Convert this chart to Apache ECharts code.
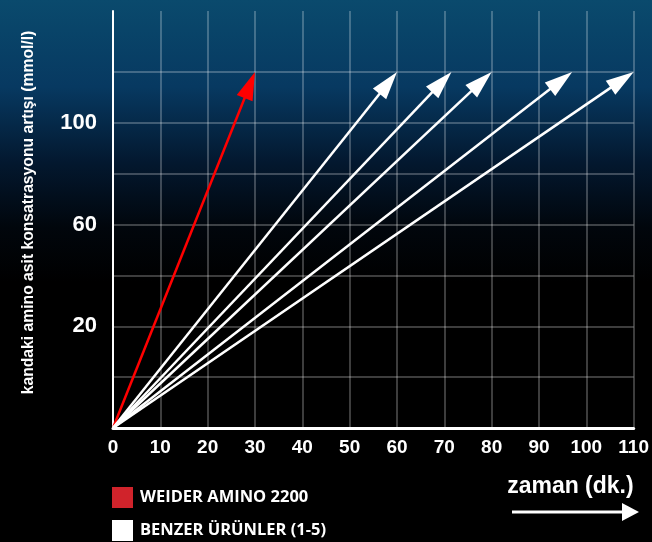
<!DOCTYPE html>
<html>
<head>
<meta charset="utf-8">
<script src="https://cdn.jsdelivr.net/npm/echarts@6/dist/echarts.min.js"></script>
<style>
    html, body { margin: 0; padding: 0; background: #000; }
    #chart { width: 652px; height: 542px; }
</style>
</head>
<body>
<div id="chart"></div>
<script>
// values
const yLabelsShown = [20, 60, 100];
const startPoint = [0, -20];
const tipValue = 120;
const weiderTipTime = 30;
const benzerTipTimes = [60, 71.5, 80, 97, 110];
const weiderName = 'WEIDER AMINO 2200';
const benzerName = 'BENZER ÜRÜNLER (1-5)';

const chart = echarts.init(document.getElementById('chart'));

// arrow: shaft from start to tip, triangle head with its point on the tip
const drawArrow = function (params, api) {
    const p0 = api.coord([api.value(0), api.value(1)]);
    const p1 = api.coord([api.value(2), api.value(3)]);
    const dx = p1[0] - p0[0], dy = p1[1] - p0[1];
    const len = Math.sqrt(dx * dx + dy * dy);
    const ux = dx / len, uy = dy / len;
    const headLen = 28, halfW = 8.5;
    const bx = p1[0] - ux * headLen, by = p1[1] - uy * headLen;
    const color = api.visual('color');
    return {
        type: 'group',
        children: [
            {
                type: 'line',
                shape: { x1: p0[0], y1: p0[1], x2: bx + ux * 3, y2: by + uy * 3 },
                style: { stroke: color, lineWidth: 2.5 }
            },
            {
                type: 'polygon',
                shape: { points: [[p1[0], p1[1]], [bx - uy * halfW, by + ux * halfW], [bx + uy * halfW, by - ux * halfW]] },
                style: { fill: color }
            }
        ]
    };
};

const arrowSeries = function (name, tipTime, color) {
    return {
        type: 'custom',
        name: name,
        coordinateSystem: 'cartesian2d',
        renderItem: drawArrow,
        itemStyle: { color: color },
        encode: { x: [0, 2], y: [1, 3] },
        silent: true,
        data: [[startPoint[0], startPoint[1], tipTime, tipValue]]
    };
};

const gridColor = 'rgba(255,255,255,0.32)';
const series = [arrowSeries(weiderName, weiderTipTime, '#ff0000')];
benzerTipTimes.forEach(function (t) {
    series.push(arrowSeries(benzerName, t, '#ffffff'));
});

chart.setOption({
    animation: false,
    backgroundColor: {
        type: 'linear', x: 0, y: 0, x2: 0, y2: 1,
        colorStops: [
            { offset: 0, color: '#0a4a6d' },
            { offset: 0.16, color: '#073961' },
            { offset: 0.3, color: '#03182f' },
            { offset: 0.42, color: '#01060c' },
            { offset: 0.52, color: '#000000' },
            { offset: 1, color: '#000000' }
        ]
    },
    grid: { left: 113, right: 15, top: 11, bottom: 114, containLabel: false },
    legend: {
        orient: 'vertical',
        left: 112,
        top: 487,
        height: 60,
        padding: 0,
        itemWidth: 21,
        itemHeight: 21,
        itemGap: 12,
        selectedMode: false,
        textStyle: { color: '#fff', fontFamily: 'Open Sans', fontWeight: 'bold', fontSize: 16.5, padding: [2, 0, 0, 2] },
        data: [
            { name: weiderName, icon: 'rect', itemStyle: { color: '#d0232b', borderWidth: 0 } },
            { name: benzerName, icon: 'rect', itemStyle: { color: '#ffffff', borderWidth: 0 } }
        ]
    },
    xAxis: {
        type: 'value',
        min: 0,
        max: 110,
        interval: 10,
        name: 'zaman (dk.)',
        nameLocation: 'end',
        nameGap: 0,
        nameTextStyle: {
            color: '#fff', fontFamily: 'Liberation Sans', fontWeight: 'bold', fontSize: 23,
            align: 'right', verticalAlign: 'top', padding: [47, 0, 0, 0]
        },
        axisLine: { onZero: false, lineStyle: { color: '#fff', width: 3 } },
        axisTick: { show: false },
        axisLabel: { color: '#fff', fontFamily: 'Liberation Sans', fontWeight: 'bold', fontSize: 19, margin: 10 },
        splitLine: { show: true, lineStyle: { color: gridColor, width: 1.5 } }
    },
    yAxis: {
        type: 'value',
        min: -20,
        max: 144,
        interval: 20,
        name: 'kandaki amino asit konsatrasyonu artışı (mmol/l)',
        nameLocation: 'middle',
        nameRotate: 90,
        nameGap: 76,
        nameTextStyle: {
            color: '#fff', fontFamily: 'Liberation Sans', fontWeight: 'bold', fontSize: 15.7,
            padding: [0, 0, 0, 14]
        },
        axisLine: { show: true, onZero: false, lineStyle: { color: '#fff', width: 2 } },
        axisTick: { show: false },
        axisLabel: {
            color: '#fff', fontFamily: 'Liberation Sans', fontWeight: 'bold', fontSize: 22, margin: 16,
            formatter: function (v) { return yLabelsShown.indexOf(v) > -1 ? String(v) : ''; }
        },
        splitLine: {
            show: true,
            showMaxLine: false,
            lineStyle: {
                color: [gridColor, gridColor, gridColor, gridColor, gridColor, gridColor, gridColor, gridColor, 'rgba(0,0,0,0)'],
                width: 1.5
            }
        }
    },
    graphic: [
        { type: 'line', shape: { x1: 512, y1: 512, x2: 626, y2: 512 }, style: { stroke: '#fff', lineWidth: 3 } },
        { type: 'polygon', shape: { points: [[622, 503], [639, 512], [622, 521]] }, style: { fill: '#fff' } }
    ],
    series: series
});
</script>
</body>
</html>
